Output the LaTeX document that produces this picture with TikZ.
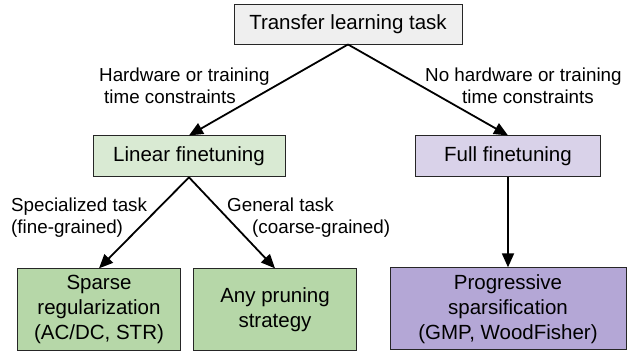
\documentclass[tikz,border=0pt]{standalone}
\usepackage{fontspec}
\setmainfont{Liberation Sans}
\usepackage{tikz}
\usetikzlibrary{
  positioning,
  arrows.meta
}
\definecolor{rootgray}{HTML}{EFEFEF}
\definecolor{palegreen}{HTML}{D9EAD3}
\definecolor{palepurple}{HTML}{D9D2E9}
\definecolor{leafgreen}{HTML}{B6D7A8}
\definecolor{leafpurple}{HTML}{B4A7D6}
\tikzset{
  box/.style={
    draw=black!85,
    line width=0.9pt,
    font=\fontsize{20.5}{25}\selectfont,
    align=center,
    inner sep=0pt,
  },
  root/.style={
    box,
    fill=rootgray,
    minimum width=228pt,
    minimum height=40pt,
  },
  tune/.style={
    box,
    minimum height=41pt,
  },
  leaf/.style={
    box,
    minimum height=82pt,
  },
  edge/.style={
    -{Triangle[length=14pt,width=12pt]},
    line width=1.8pt,
  },
  cond/.style={
    font=\fontsize{18.8}{22}\selectfont,
    align=left,
    inner sep=0pt,
    anchor=base west,
  },
}

\begin{document}
\begin{tikzpicture}[x=1pt, y=-1pt, node distance=91pt]
		\useasboundingbox (0,0) rectangle (635,352);

		% nodes
		\node[root] (task) at (348,24) {Transfer learning task};

		\node[tune, fill=palegreen, minimum width=192pt,
			below=of task, xshift=-159pt] (linear) {Linear finetuning};
		\node[tune, fill=palepurple, minimum width=185pt,
			below=of task, xshift=160pt] (full) {Full finetuning};

		\node[leaf, fill=leafgreen, minimum width=163pt,
			below=of linear, xshift=-90pt] (sparse) {Sparse\\regularization\\(AC/DC, STR)};
		\node[leaf, fill=leafgreen, minimum width=163pt,
			below=of linear, xshift=86pt] (anyprune) {Any pruning\\strategy};
		\node[leaf, fill=leafpurple, minimum width=236pt,
			below=90pt of full] (progressive) {Progressive\\sparsification\\(GMP, WoodFisher)};

		% edges
		\draw[edge] (task.south) -- (linear.north);
		\draw[edge] (task.south) -- (full.north);
		\draw[edge] (linear.south) -- (sparse.north);
		\draw[edge] (linear.south) -- (anyprune.north);
		\draw[edge] (full.south) -- (progressive.north);

		% conditions (base = last line)
		\node[cond] (hwyes) at (99,104) {Hardware or training\\\hspace{5pt}time constraints};
		\node[cond] (hwno) at (425,104) {No hardware or training\\\hspace{37pt}time constraints};
		\node[cond] (special) at (11,234) {Specialized task\\(fine-grained)};
		\node[cond] (general) at (227,234) {General task\\\hspace{25pt}(coarse-grained)};

	\end{tikzpicture}
\end{document}
